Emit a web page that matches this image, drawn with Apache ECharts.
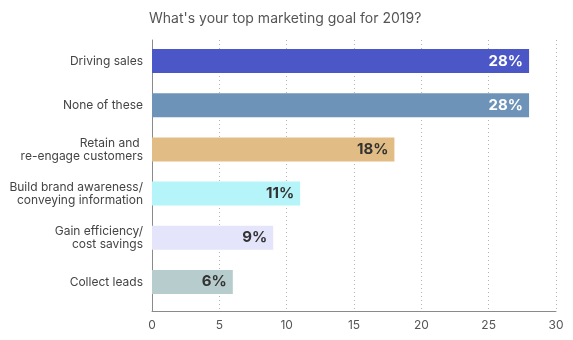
<!DOCTYPE html>
<html>
<head>
<meta charset="utf-8">
<script src="https://cdn.jsdelivr.net/npm/echarts@6/dist/echarts.min.js"></script>
<style>
  html, body { margin: 0; padding: 0; background: #fff; }
  #chart { width: 573px; height: 340px; }
</style>
</head>
<body>
<div id="chart"></div>
<script>
// Survey answers, top to bottom
const categories = [
  'Driving sales',
  'None of these',
  'Retain and \nre-engage customers',
  'Build brand awareness/\nconveying information',
  'Gain efficiency/\ncost savings',
  'Collect leads'
];
// Share of respondents (%)
const shares = [28, 28, 18, 11, 9, 6];
const barColors = ['#4b56c7', '#6e93b9', '#e1bc85', '#b5f4f8', '#e4e4fa', '#b7cccc'];
const labelColors = ['#ffffff', '#ffffff', '#333333', '#333333', '#333333', '#333333'];
const xTicks = { min: 0, max: 30, interval: 5 };

const FONT = 'Inter, "Noto Sans", sans-serif';

const chart = echarts.init(document.getElementById('chart'), null, { renderer: 'canvas' });

chart.setOption({
  animation: false,
  title: {
    text: "What's your top marketing goal for 2019?",
    left: 144,
    top: 7,
    textStyle: { fontFamily: FONT, fontSize: 14, fontWeight: 'normal', color: '#555' }
  },
  grid: [
    // frame: value axis, dotted guides and the left axis line
    { left: 152, right: 17, top: 40, bottom: 29 },
    // bars
    { left: 152, right: 17, top: 39, bottom: 36 }
  ],
  xAxis: [
    {
      gridIndex: 0,
      type: 'value',
      min: xTicks.min, max: xTicks.max, interval: xTicks.interval,
      axisLine: { show: true, lineStyle: { color: '#8a8a8a', width: 1 } },
      axisTick: { show: false },
      axisLabel: { fontFamily: FONT, fontSize: 12, color: '#555', margin: 8 },
      splitLine: { show: true, lineStyle: { type: [1, 3], color: '#b5b5b5', width: 1 } }
    },
    {
      gridIndex: 1,
      type: 'value',
      min: xTicks.min, max: xTicks.max, interval: xTicks.interval,
      show: false
    }
  ],
  yAxis: [
    {
      gridIndex: 0,
      type: 'value',
      axisLine: { show: true, lineStyle: { color: '#8a8a8a', width: 1 } },
      axisTick: { show: false },
      axisLabel: { show: false },
      splitLine: { show: false }
    },
    {
      gridIndex: 1,
      type: 'category',
      data: categories,
      inverse: true,
      axisLine: { show: false },
      axisTick: { show: false },
      axisLabel: {
        fontFamily: FONT, fontSize: 12, color: '#444', margin: 9,
        lineHeight: 13, align: 'right'
      }
    }
  ],
  series: [
    {
      type: 'bar',
      xAxisIndex: 1,
      yAxisIndex: 1,
      barWidth: 24,
      data: shares.map((v, i) => ({
        value: v,
        itemStyle: { color: barColors[i] },
        label: { color: labelColors[i] }
      })),
      label: {
        show: true,
        position: 'insideRight',
        distance: 6,
        formatter: p => p.value + '%',
        fontFamily: FONT,
        fontSize: 15,
        fontWeight: 'bold'
      }
    }
  ]
});
</script>
</body>
</html>
